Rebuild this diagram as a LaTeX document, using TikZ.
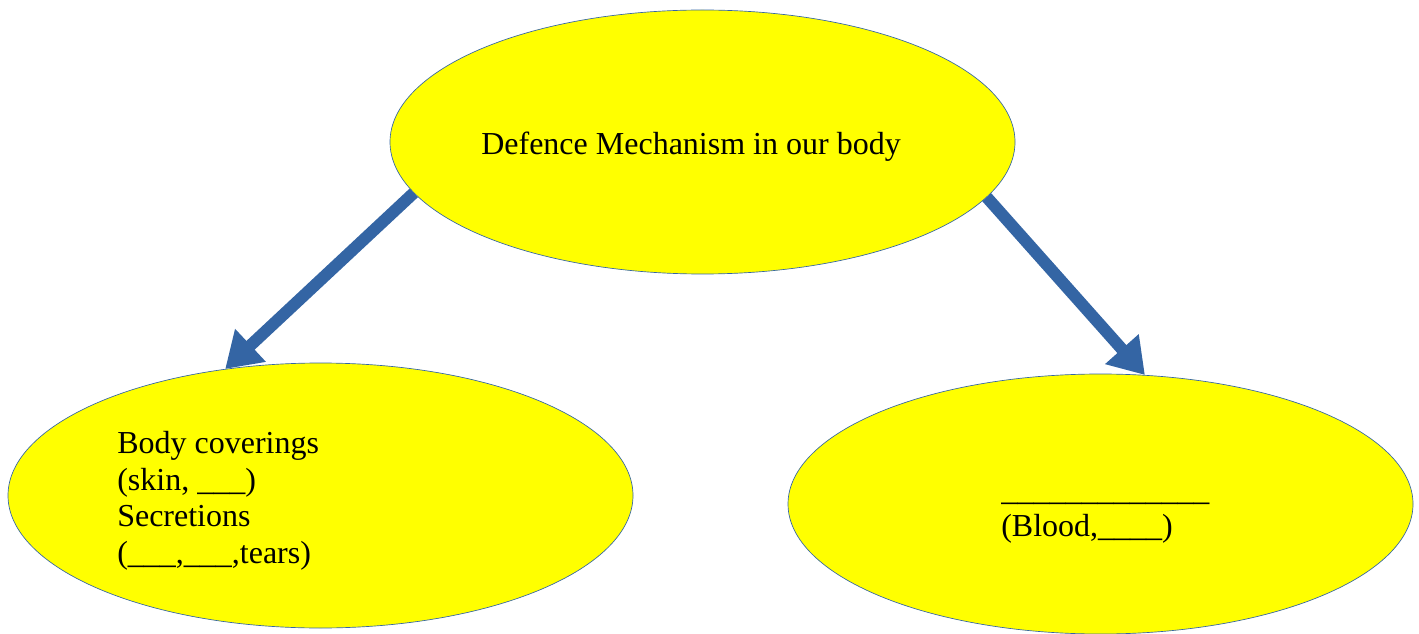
\documentclass[tikz,border=0pt]{standalone}
\usepackage{fontspec}
\setmainfont{Liberation Serif}
\usetikzlibrary{shapes.geometric,arrows.meta}

\definecolor{arrowblue}{HTML}{3465A4}
\definecolor{blobyellow}{HTML}{FFFF00}

\tikzset{
  blob/.style={ellipse, draw=arrowblue, line width=0.5pt, fill=blobyellow,
    minimum width=468.75pt, minimum height=198pt, inner sep=0pt},
  label text/.style={inner sep=0pt, align=left, font=\fontsize{24}{27.5}\selectfont},
  link/.style={draw=arrowblue, line width=9pt,
    -{Triangle[length=26pt,width=32pt,fill=arrowblue]}}
}

\begin{document}
\begin{tikzpicture}[x=0.75pt,y=0.75pt,yscale=-1,xscale=1]
\useasboundingbox (0,0) rectangle (1419,634);

%Shape: Ellipse
\node[blob] (defence) at (702.5,142) {};
%Shape: Ellipse
\node[blob, minimum height=198.75pt] (covering) at (320.5,495.5) {};
%Shape: Ellipse
\node[blob, minimum height=195pt] (blood) at (1100.5,504) {};

% Text Node
\node[label text, anchor=base] (defencetext) at (691,155) {Defence Mechanism in our body};
% Text Node
\node[label text, anchor=north west] (coveringtext) at (117,431)
  {Body coverings\\(skin, \_\_\_)\\Secretions\\(\_\_\_,\_\_\_,tears)};
% Text Node
\node[label text, anchor=north west] (bloodtext) at (1001,500)
  {\_\_\_\_\_\_\_\_\_\_\_\_\_\\(Blood,\_\_\_\_)};

%Arrows
\draw[link] (defence.190.3) -- (covering.127.6);
\draw[link] (defence.349) -- (blood.71.2);

\end{tikzpicture}
\end{document}
